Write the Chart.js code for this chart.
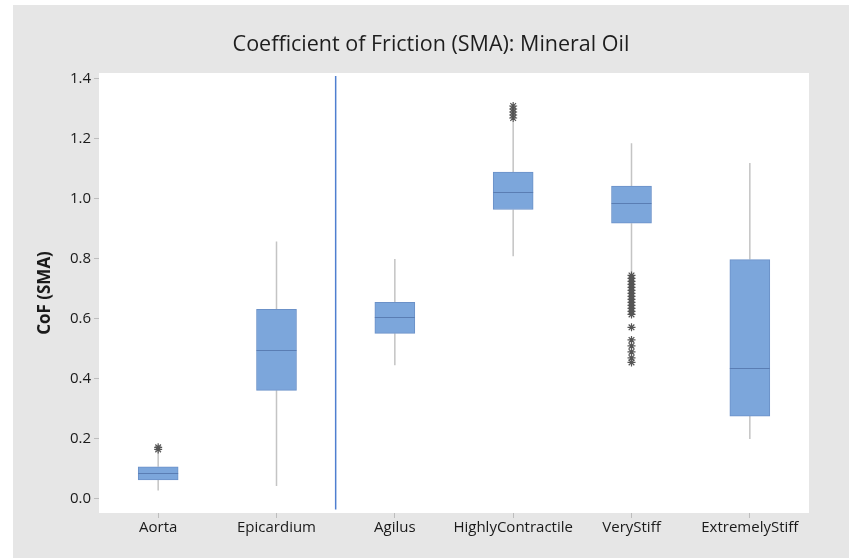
<!DOCTYPE html>
<html>
<head>
<meta charset="utf-8">
<script src="https://cdn.jsdelivr.net/npm/chart.js@4/dist/chart.umd.min.js"></script>
<style>
  html, body { margin: 0; padding: 0; background: #fff; }
  #wrap { width: 854px; height: 558px; }
</style>
</head>
<body>
<div id="wrap"><canvas id="chart" width="854" height="558"></canvas></div>
<script>
// categories and five-number summaries
const categories = ['Aorta', 'Epicardium', 'Agilus', 'HighlyContractile', 'VeryStiff', 'ExtremelyStiff'];
const whiskerLow  = [0.028, 0.043, 0.446, 0.809, 0.750, 0.200];
const q1          = [0.063, 0.362, 0.552, 0.965, 0.919, 0.276];
const median      = [0.086, 0.495, 0.605, 1.024, 0.987, 0.435];
const q3          = [0.107, 0.632, 0.655, 1.090, 1.043, 0.798];
const whiskerHigh = [0.156, 0.858, 0.800, 1.258, 1.186, 1.120];

// outliers (asterisks)
const aortaOutliers = [0.165, 0.172];
const contractileOutliers = [1.27, 1.28, 1.29, 1.30, 1.31];
const veryStiffOutliers = [0.745, 0.735, 0.725, 0.715, 0.705, 0.695, 0.685, 0.675, 0.665,
                           0.655, 0.645, 0.635, 0.625, 0.615, 0.572, 0.53, 0.51, 0.49, 0.47, 0.455];

const yTicks = [0, 0.2, 0.4, 0.6, 0.8, 1.0, 1.2, 1.4];
const chartTitle = 'Coefficient of Friction (SMA): Mineral Oil';

const outlierPoints = [];
aortaOutliers.forEach(v => outlierPoints.push({ x: 'Aorta', y: v }));
contractileOutliers.forEach(v => outlierPoints.push({ x: 'HighlyContractile', y: v }));
veryStiffOutliers.forEach(v => outlierPoints.push({ x: 'VeryStiff', y: v }));

const fontFamily = '"Open Sans", "Noto Sans", sans-serif';

// grey frame, white plot area and the title (centred on the frame)
const frame = {
    id: 'frame',
    beforeDraw(chart) {
        const { ctx, chartArea } = chart;
        ctx.save();
        ctx.fillStyle = '#ffffff';
        ctx.fillRect(0, 0, chart.width, chart.height);
        ctx.fillStyle = '#e6e6e6';
        ctx.fillRect(13, 5, 836, 553);
        ctx.fillStyle = '#ffffff';
        ctx.fillRect(chartArea.left, chartArea.top, chartArea.right - chartArea.left, chartArea.bottom - chartArea.top);
        ctx.fillStyle = '#1e1e1e';
        ctx.font = '21.5px ' + fontFamily;
        ctx.textAlign = 'center';
        ctx.textBaseline = 'middle';
        ctx.fillText(chartTitle, 431, 45);
        ctx.restore();
    }
};

const boxParts = {
    id: 'boxParts',
    beforeDatasetsDraw(chart) {
        const { ctx, scales: { x, y } } = chart;
        ctx.save();
        ctx.strokeStyle = '#c4c4c4';
        ctx.lineWidth = 1.5;
        categories.forEach((c, i) => {
            const px = x.getPixelForValue(i);
            ctx.beginPath();
            ctx.moveTo(px, y.getPixelForValue(whiskerLow[i]));
            ctx.lineTo(px, y.getPixelForValue(q1[i]));
            ctx.moveTo(px, y.getPixelForValue(q3[i]));
            ctx.lineTo(px, y.getPixelForValue(whiskerHigh[i]));
            ctx.stroke();
        });
        // divider between the tissue groups
        const dx = (x.getPixelForValue(1) + x.getPixelForValue(2)) / 2;
        ctx.strokeStyle = '#4f7fd0';
        ctx.lineWidth = 1.5;
        ctx.beginPath();
        ctx.moveTo(dx, y.getPixelForValue(1.41));
        ctx.lineTo(dx, y.getPixelForValue(-0.035));
        ctx.stroke();
        ctx.restore();
    },
    afterDatasetsDraw(chart) {
        const { ctx, scales: { y } } = chart;
        const meta = chart.getDatasetMeta(0);
        ctx.save();
        ctx.strokeStyle = '#5a7db3';
        ctx.lineWidth = 1;
        meta.data.forEach((bar, i) => {
            const py = Math.round(y.getPixelForValue(median[i])) + 0.5;
            ctx.beginPath();
            ctx.moveTo(bar.x - bar.width / 2, py);
            ctx.lineTo(bar.x + bar.width / 2, py);
            ctx.stroke();
        });
        ctx.restore();
    }
};

new Chart(document.getElementById('chart'), {
    type: 'bar',
    data: {
        labels: categories,
        datasets: [
            {
                label: 'box',
                data: categories.map((c, i) => [q1[i], q3[i]]),
                backgroundColor: '#7ca6db',
                borderColor: '#6b91c8',
                borderWidth: 1,
                borderSkipped: false,
                barThickness: 40,
                order: 2
            },
            {
                type: 'line',
                label: 'outliers',
                data: outlierPoints,
                showLine: false,
                pointStyle: 'star',
                pointRadius: 4,
                borderColor: '#555555',
                borderWidth: 1.2,
                backgroundColor: '#555555',
                order: 1
            }
        ]
    },
    options: {
        responsive: false,
        animation: false,
        layout: { padding: { left: 0, right: 45, top: 73, bottom: 0 } },
        plugins: {
            legend: { display: false },
            tooltip: { enabled: false },
            title: { display: false }
        },
        scales: {
            x: {
                grid: { display: true, drawOnChartArea: false, offset: false, tickLength: 5, color: '#bdbdbd' },
                border: { display: false },
                ticks: {
                    color: '#1a1a1a',
                    font: { family: fontFamily, size: 15 },
                    padding: 1,
                    maxRotation: 0,
                    autoSkip: false
                },
                afterFit(scale) { scale.height = 45; }
            },
            y: {
                min: -0.047,
                max: 1.42,
                grid: { display: true, drawOnChartArea: false, tickLength: 5, color: '#bdbdbd' },
                border: { display: false },
                afterBuildTicks(scale) { scale.ticks = yTicks.map(v => ({ value: v })); },
                ticks: {
                    color: '#1a1a1a',
                    font: { family: fontFamily, size: 15 },
                    padding: 3,
                    callback: v => Number(v).toFixed(1)
                },
                title: {
                    display: true,
                    text: 'CoF (SMA)',
                    color: '#1a1a1a',
                    font: { family: fontFamily, size: 17, weight: 'bold' },
                    padding: { top: 35, bottom: 0 }
                },
                afterFit(scale) { scale.width = 99; }
            }
        }
    },
    plugins: [frame, boxParts]
});
</script>
</body>
</html>
